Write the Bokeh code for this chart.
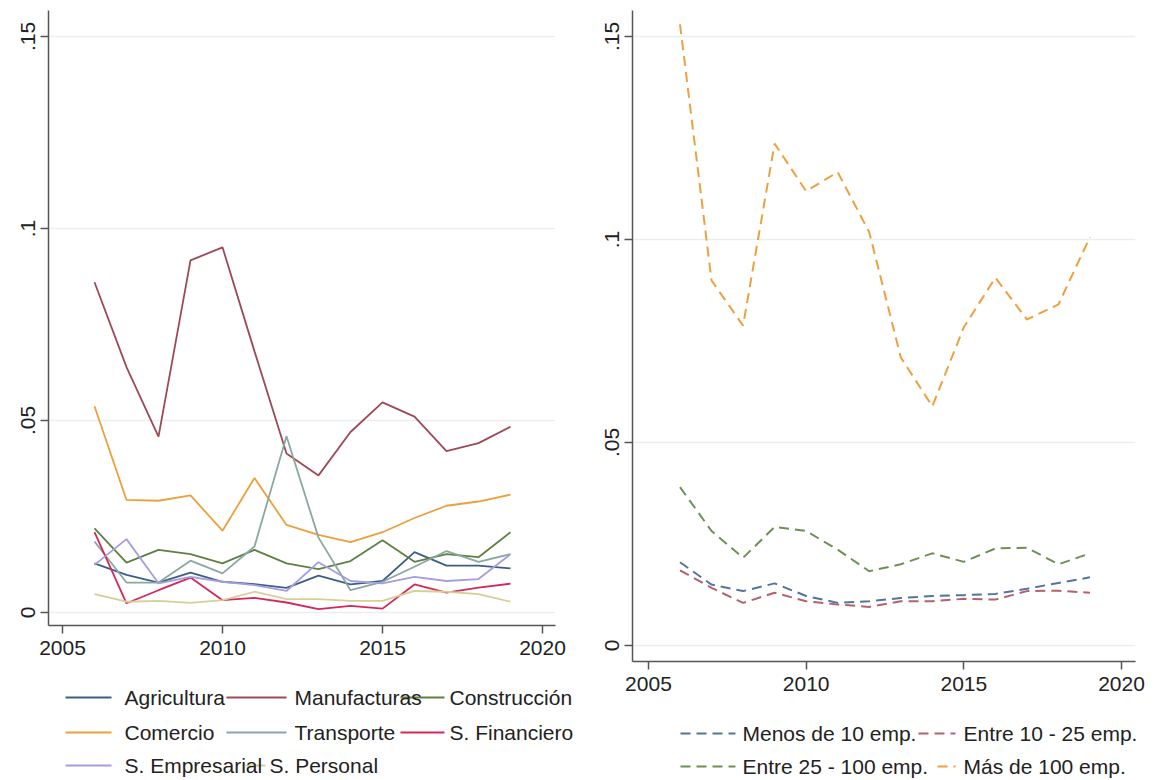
from bokeh.plotting import figure
from bokeh.layouts import row, column
from bokeh.models import Range1d, FixedTicker, CustomJSTickFormatter, LabelSet, ColumnDataSource
from bokeh.core.properties import value
from bokeh.embed import file_html
from bokeh.resources import INLINE

# ---------------- data ----------------
years = [2006, 2007, 2008, 2009, 2010, 2011, 2012, 2013, 2014, 2015, 2016, 2017, 2018, 2019]

agricultura = [0.0128, 0.0098, 0.0078, 0.0104, 0.0080, 0.0074, 0.0064, 0.0096, 0.0073, 0.0082, 0.0157, 0.0122, 0.0122, 0.0115]
manufacturas = [0.0860, 0.0639, 0.0458, 0.0917, 0.0951, 0.0680, 0.0414, 0.0357, 0.0470, 0.0547, 0.0510, 0.0420, 0.0441, 0.0484]
construccion = [0.0219, 0.0130, 0.0163, 0.0152, 0.0128, 0.0163, 0.0128, 0.0113, 0.0134, 0.0188, 0.0132, 0.0152, 0.0144, 0.0209]
comercio = [0.0537, 0.0293, 0.0291, 0.0305, 0.0213, 0.0350, 0.0228, 0.0202, 0.0183, 0.0209, 0.0246, 0.0278, 0.0289, 0.0307]
transporte = [0.0185, 0.0078, 0.0078, 0.0135, 0.0102, 0.0172, 0.0459, 0.0195, 0.0058, 0.0080, 0.0119, 0.0160, 0.0132, 0.0152]
financiero = [0.0209, 0.0024, 0.0058, 0.0091, 0.0032, 0.0038, 0.0026, 0.0009, 0.0017, 0.0010, 0.0073, 0.0052, 0.0065, 0.0075]
empresarial = [0.0124, 0.0191, 0.0076, 0.0093, 0.0080, 0.0071, 0.0056, 0.0131, 0.0082, 0.0076, 0.0093, 0.0082, 0.0087, 0.0152]
personal = [0.0048, 0.0028, 0.0030, 0.0025, 0.0032, 0.0054, 0.0035, 0.0035, 0.0030, 0.0030, 0.0056, 0.0054, 0.0048, 0.0028]

sector_names = ["Agricultura", "Manufacturas", "Construcción", "Comercio",
                "Transporte", "S. Financiero", "S. Empresarial", "S. Personal"]
sector_series = [agricultura, manufacturas, construccion, comercio,
                 transporte, financiero, empresarial, personal]
sector_colors = ["#3d5f85", "#9c4a55", "#5f8040", "#eba13b",
                 "#8aa8a0", "#d4285a", "#a49ee0", "#d6cf98"]

menos10 = [0.0205, 0.0150, 0.0134, 0.0153, 0.0122, 0.0105, 0.0109, 0.0117, 0.0122, 0.0124, 0.0127, 0.0140, 0.0154, 0.0168]
entre10_25 = [0.0185, 0.0142, 0.0105, 0.0130, 0.0109, 0.0101, 0.0095, 0.0109, 0.0109, 0.0115, 0.0113, 0.0134, 0.0135, 0.0130]
entre25_100 = [0.0390, 0.0282, 0.0216, 0.0292, 0.0282, 0.0236, 0.0183, 0.0200, 0.0227, 0.0206, 0.0239, 0.0241, 0.0200, 0.0227]
mas100 = [0.1530, 0.0899, 0.0788, 0.1236, 0.1119, 0.1166, 0.1018, 0.0710, 0.0589, 0.0784, 0.0906, 0.0803, 0.0840, 0.1006]

size_names = ["Menos de 10 emp.", "Entre 10 - 25 emp.", "Entre 25 - 100 emp.", "Más de 100 emp."]
size_series = [menos10, entre10_25, entre25_100, mas100]
size_colors = ["#52759a", "#b5616c", "#6f8f55", "#eda040"]

x_ticks = [2005, 2010, 2015, 2020]
y_ticks = [0, 0.05, 0.1, 0.15]

FONT = "Liberation Sans"
FS = "21px"
TXT = "#222222"

fmt = CustomJSTickFormatter(code="""
if (Math.abs(tick) < 1e-9) return '0';
let s = tick.toFixed(2);
s = s.replace(/^0/, '');
s = s.replace(/0$/, '');
return s;
""")


def make_plot(fw, fh, xr, yr, bl, br, bt, bb):
    p = figure(frame_width=fw, frame_height=fh, x_range=Range1d(*xr), y_range=Range1d(*yr),
               toolbar_location=None, output_backend="svg",
               min_border_left=bl, min_border_right=br, min_border_top=bt, min_border_bottom=bb,
               background_fill_color="white", border_fill_color="white")
    p.outline_line_color = None
    p.xgrid.visible = False
    p.ygrid.grid_line_color = "#eceeee"
    p.ygrid.grid_line_width = 1.5
    p.xaxis.ticker = FixedTicker(ticks=x_ticks)
    p.yaxis.ticker = FixedTicker(ticks=y_ticks)
    p.yaxis.formatter = fmt
    p.yaxis.major_label_orientation = "vertical"
    for ax in (p.xaxis, p.yaxis):
        ax.axis_line_color = "#555555"
        ax.axis_line_width = 1.5
        ax.major_tick_line_color = "#555555"
        ax.major_tick_line_width = 1.5
        ax.major_tick_in = 0
        ax.major_tick_out = 8
        ax.minor_tick_line_color = None
        ax.major_label_text_font = FONT
        ax.major_label_text_font_size = FS
        ax.major_label_text_color = TXT
    p.xaxis.major_label_standoff = 7
    p.yaxis.major_label_standoff = 5
    return p


def legend_fig(w, h, x0):
    # borderless figure; x data units == page pixels, y grows downward
    lf = figure(frame_width=w, frame_height=h, x_range=Range1d(x0, x0 + w), y_range=Range1d(h, 0),
                toolbar_location=None, output_backend="svg", x_axis_type=None, y_axis_type=None,
                min_border=0, background_fill_color="white", border_fill_color="white")
    lf.outline_line_color = None
    lf.grid.visible = False
    return lf


# ---------------- left panel ----------------
p1 = make_plot(507, 615, (2004.5625, 2020.406), (-0.00339, 0.15677), 48, 25, 10, 48)
for ys, c in zip(sector_series, sector_colors):
    p1.line(years, ys, line_color=c, line_width=1.8)

leg1 = legend_fig(580, 107, 0)
l1_x0 = [65, 226, 400, 65, 226, 400, 65, 245]
l1_x1 = [111, 286, 444, 111, 286, 444, 111, 265]
l1_tx = [124, 294, 449, 124, 294, 449, 124, 269]
l1_y = [24, 24, 24, 59, 59, 59, 92, 92]
leg1.segment(x0=l1_x0, y0=l1_y, x1=l1_x1, y1=l1_y, line_color=sector_colors, line_width=2)
leg1.add_layout(LabelSet(x="x", y="y", text="text",
                         source=ColumnDataSource(dict(x=l1_tx, y=l1_y, text=sector_names)),
                         text_font=value(FONT), text_font_size=value(FS), text_color=TXT,
                         text_baseline="middle", text_align="left"))

# ---------------- right panel ----------------
p2 = make_plot(503, 651, (2004.494, 2020.443), (-0.00394, 0.1564), 52, 27, 10, 44)
for ys, c in zip(size_series, size_colors):
    p2.line(years, ys, line_color=c, line_width=2, line_dash="10 6")

leg2 = legend_fig(582, 75, 580)
l2_x0 = [680, 918, 680, 937]
l2_x1 = [735, 955, 735, 955]
l2_tx = [742, 963, 742, 963]
l2_y = [28, 28, 61, 61]
for i in range(4):
    leg2.segment(x0=[l2_x0[i]], y0=[l2_y[i]], x1=[l2_x1[i]], y1=[l2_y[i]],
                 line_color=size_colors[i], line_width=2, line_dash="10 6")
leg2.add_layout(LabelSet(x="x", y="y", text="text",
                         source=ColumnDataSource(dict(x=l2_tx, y=l2_y, text=size_names)),
                         text_font=value(FONT), text_font_size=value(FS), text_color=TXT,
                         text_baseline="middle", text_align="left"))

layout = row(column(p1, row(leg1, spacing=0), spacing=0),
             column(p2, row(leg2, spacing=0), spacing=0), spacing=0)

open("out.html", "w").write(file_html(layout, INLINE))
